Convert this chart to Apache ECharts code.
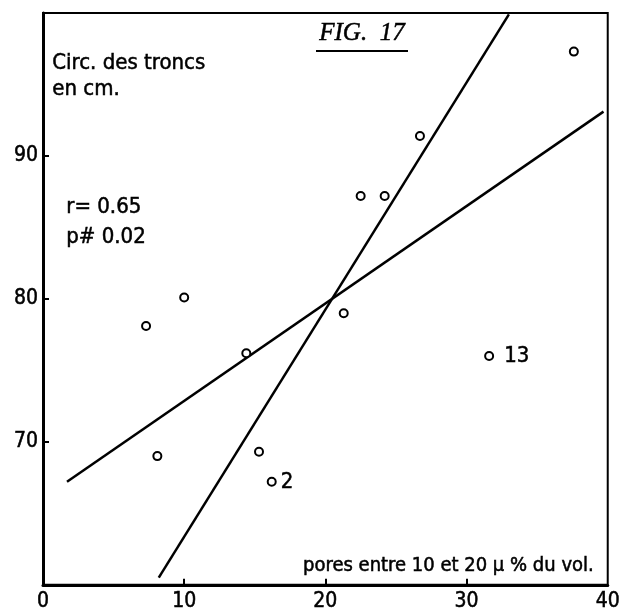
<!DOCTYPE html>
<html>
<head>
<meta charset="utf-8">
<script src="https://cdn.jsdelivr.net/npm/echarts@6/dist/echarts.min.js"></script>
<style>
  html, body { margin: 0; padding: 0; background: #fff; }
  #chart { width: 623px; height: 612px; }
</style>
</head>
<body>
<div id="chart"></div>
<script>
// Pores 10–20 µ (% of volume) vs. trunk circumference (cm)
const poresX = [7.3, 10.0, 8.1, 14.4, 15.3, 16.2, 21.3, 22.5, 24.2, 26.7, 37.6, 31.6];
const circY  = [78.1, 80.1, 69.0, 76.2, 69.3, 67.2, 79.0, 87.2, 87.2, 91.4, 97.3, 76.0];
const pointTags = ['', '', '', '', '', '2', '', '', '', '', '', '13'];

// Two regression lines (y on x, x on y), end points
const lineYonX = [[1.7, 67.2], [39.7, 93.1]];
const lineXonY = [[8.2, 60.5], [33.0, 99.9]];

const xTickLabels = [0, 10, 20, 30, 40];
const yTickLabels = [70, 80, 90];
const xTickMarks = [10, 20, 30];

const ink = '#000';
const sansC = '"DejaVu Sans Condensed", "Liberation Sans Narrow", "DejaVu Sans", sans-serif';
// slight outline to give the lettering a heavier stroke
const heavy = { textBorderColor: ink, textBorderWidth: 0.5 };

const chart = echarts.init(document.getElementById('chart'), null, { renderer: 'canvas' });

const points = poresX.map((x, i) => ({
  value: [x, circY[i]],
  label: pointTags[i] ? Object.assign({
    show: true, formatter: pointTags[i], position: 'right',
    distance: pointTags[i].length > 1 ? 10 : 4,
    color: ink, fontFamily: sansC, fontSize: 22
  }, heavy) : { show: false }
}));

const graphicText = (text, font, extra) => Object.assign({
  text, fill: ink, font, stroke: ink, lineWidth: 0.5
}, extra || {});

chart.setOption({
  animation: false,
  backgroundColor: '#fff',
  grid: {
    left: 43, right: 8, top: 13, bottom: 27,
    show: true, borderColor: ink, borderWidth: 2, backgroundColor: 'transparent'
  },
  xAxis: {
    type: 'value', min: 0, max: 40, interval: 10,
    axisLine: { show: true, lineStyle: { color: ink, width: 3 } },
    axisTick: { show: true, inside: true, length: 6, customValues: xTickMarks, lineStyle: { color: ink, width: 2 } },
    axisLabel: Object.assign({ customValues: xTickLabels, color: ink, fontFamily: sansC, fontSize: 21, margin: 6 }, heavy),
    splitLine: { show: false }
  },
  yAxis: {
    type: 'value', min: 60, max: 100, interval: 10,
    axisLine: { show: true, lineStyle: { color: ink, width: 3 } },
    axisTick: { show: true, inside: true, length: 6, customValues: yTickLabels, lineStyle: { color: ink, width: 2 } },
    axisLabel: Object.assign({ customValues: yTickLabels, color: ink, fontFamily: sansC, fontSize: 21, margin: 5 }, heavy),
    splitLine: { show: false }
  },
  series: [
    {
      type: 'line', data: lineYonX, symbol: 'none', silent: true,
      lineStyle: { color: ink, width: 2.5 }
    },
    {
      type: 'line', data: lineXonY, symbol: 'none', silent: true,
      lineStyle: { color: ink, width: 2.5 }
    },
    {
      type: 'scatter', data: points, symbol: 'circle', symbolSize: 8,
      itemStyle: { color: '#fff', borderColor: ink, borderWidth: 2, opacity: 1 },
      z: 5
    }
  ],
  graphic: [
    {
      type: 'text', left: 52, top: 50,
      style: graphicText('Circ. des troncs\nen cm.', '22px ' + sansC, { lineHeight: 26 })
    },
    {
      type: 'text', left: 66, top: 192,
      style: graphicText('r= 0.65\np# 0.02', '22px ' + sansC, { lineHeight: 30 })
    },
    {
      type: 'text', left: 319, top: 21,
      style: graphicText('FIG.  17', 'italic 25px "Liberation Serif", "DejaVu Serif", serif')
    },
    {
      type: 'line', shape: { x1: 316, y1: 51, x2: 408, y2: 51 },
      style: { stroke: ink, lineWidth: 2 }
    },
    {
      type: 'text', right: 29, top: 556,
      style: graphicText('pores entre 10 et 20 \u00b5 % du vol.', '20px ' + sansC)
    }
  ]
});
</script>
</body>
</html>
